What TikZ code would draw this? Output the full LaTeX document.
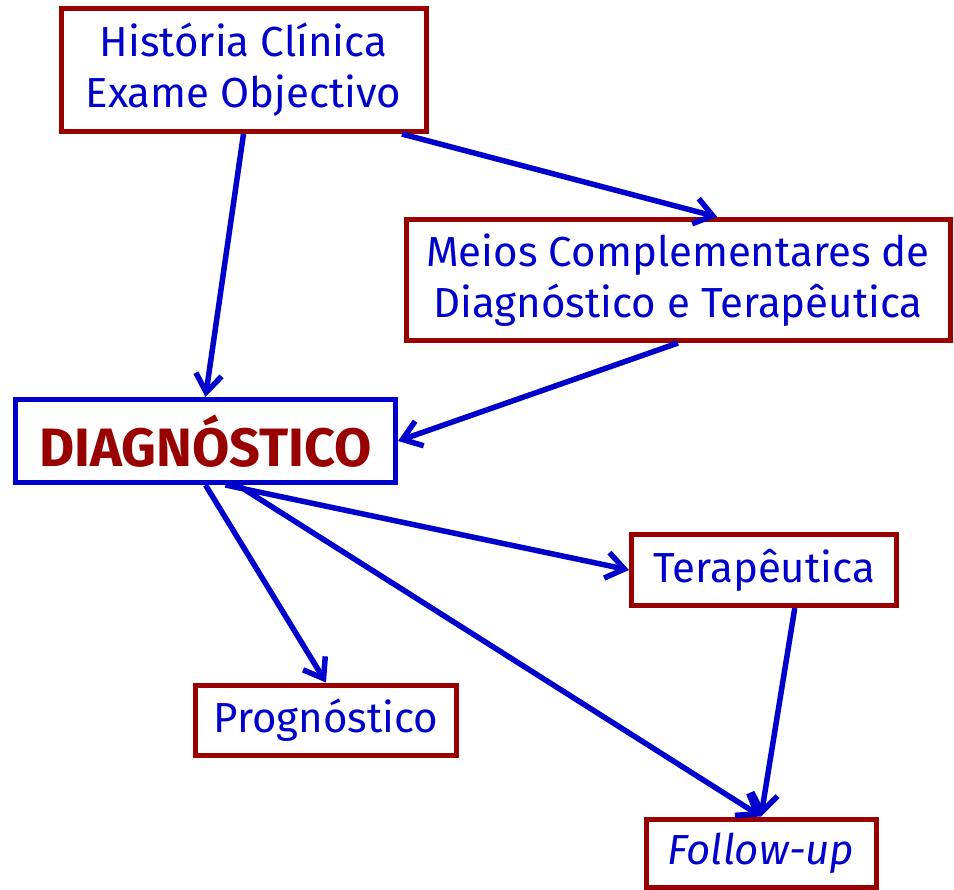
\documentclass[tikz,border=0pt]{standalone}
\usepackage{fontspec}
\setmainfont{Fira Sans}
\usepackage{xcolor}
\usepackage{tikz}
\usetikzlibrary{arrows.meta}
\usetikzlibrary{positioning}
\definecolor{textblue}{RGB}{0, 0, 204}
\definecolor{darkred}{RGB}{153, 0, 0}

\tikzset{
  box/.style={draw=darkred, line width=5pt, text=textblue, align=center,
    inner sep=0pt, font=\fontsize{42}{51}\selectfont},
  link/.style={->, draw=textblue, line width=5.5pt},
  >={Straight Barb[length=18pt, width=26pt]}
}

\begin{document}
\begin{tikzpicture}[x=1pt, y=-1pt]
            \useasboundingbox (0,0) rectangle (954,890);
            \node (hist) at (243.5, 70) [box, minimum width=365pt, minimum height=123pt] {História Clínica\\Exame Objectivo};
            \node (meios) at (678, 280) [box, minimum width=544pt, minimum height=121pt] {Meios Complementares de\\Diagnóstico e Terapêutica};
            \node (diag) at (205.5, 441) [box, draw=textblue, text=darkred, minimum width=380pt, minimum height=83pt,
                font=\fontsize{54}{60}\selectfont\bfseries] {DIAGNÓSTICO};
            \node (terap) at (764, 570) [box, minimum width=265pt, minimum height=71pt] {Terapêutica};
            \node (prog) at (326, 720) [box, minimum width=261pt, minimum height=70pt] {Prognóstico};
            \node (follow) at (761, 853) [box, minimum width=230pt, minimum height=68pt] {\itshape Follow-up};
            \draw [link] (hist.south) -- (diag.north);
            \draw [link] (hist.-22) -- (meios.58);
            \draw [link] (meios.south) -- (diag.east);
            \draw [link] (diag.south) -- (prog.north);
            \draw [link] ([xshift=20pt]diag.south) -- (terap.west);
            \draw [link] ([xshift=32pt]diag.south) -- (follow.north);
            \draw [link] (terap.-51) -- (follow.north);
        \end{tikzpicture}
\end{document}
